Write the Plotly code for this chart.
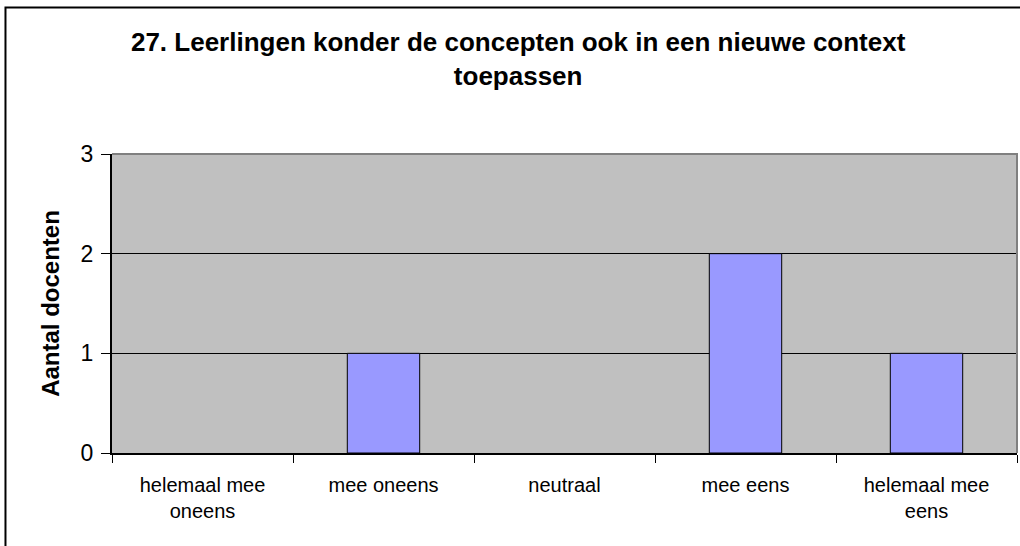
import plotly.graph_objects as go

# survey answers and counts
categories = ["helemaal mee<br>oneens", "mee oneens", "neutraal", "mee eens", "helemaal mee<br>eens"]
counts = [0, 1, 0, 2, 1]
y_ticks = [0, 1, 2, 3]

FONT = "Arial, Liberation Sans, sans-serif"

fig = go.Figure(go.Bar(
    x=categories,
    y=counts,
    marker=dict(color="#9999FF",
                line=dict(color="black", width=[1 if c else 0 for c in counts])),
    width=0.4,
))

fig.update_layout(
    width=1020,
    height=546,
    margin=dict(l=112, r=3, t=154, b=93),
    paper_bgcolor="white",
    plot_bgcolor="#C0C0C0",
    font=dict(family=FONT, color="black"),
    showlegend=False,
    title=dict(
        text="<b>27. Leerlingen konder de concepten ook in een nieuwe context<br>toepassen</b>",
        font=dict(size=26, family=FONT, color="black"),
        x=0.508, xref="container", xanchor="center",
        y=0.907, yref="container", yanchor="top",
    ),
    xaxis=dict(
        type="category",
        tickson="boundaries",
        ticks="outside",
        ticklen=8,
        tickcolor="black",
        showline=True,
        linecolor="black",
        linewidth=2,
        showgrid=False,
        tickfont=dict(size=20, family=FONT),
        ticklabelstandoff=13,
    ),
    yaxis=dict(
        range=[0, 3],
        tickvals=y_ticks,
        ticks="outside",
        ticklen=9,
        tickcolor="black",
        showline=True,
        linecolor="black",
        linewidth=2,
        showgrid=True,
        gridcolor="black",
        gridwidth=1,
        zeroline=False,
        tickfont=dict(size=23, family=FONT),
        ticklabelstandoff=3,
        title=dict(text="<b>Aantal docenten</b>", font=dict(size=24, family=FONT), standoff=14),
    ),
    shapes=[
        # grey top/right plot border
        dict(type="path", xref="paper", yref="paper", path="M 0,1 L 1,1 L 1,0",
             line=dict(color="#808080", width=2), layer="above"),
        # outer chart frame
        dict(type="rect", xref="paper", yref="paper", x0=-0.1177, x1=1.01, y0=-0.35, y1=1.49,
             line=dict(color="black", width=2), layer="above"),
    ],
)

# drop the default page margin so the chart sits at the window's corner
fig.write_html("out.html", config={"displayModeBar": False},
               post_script="document.body.style.margin='0';")
